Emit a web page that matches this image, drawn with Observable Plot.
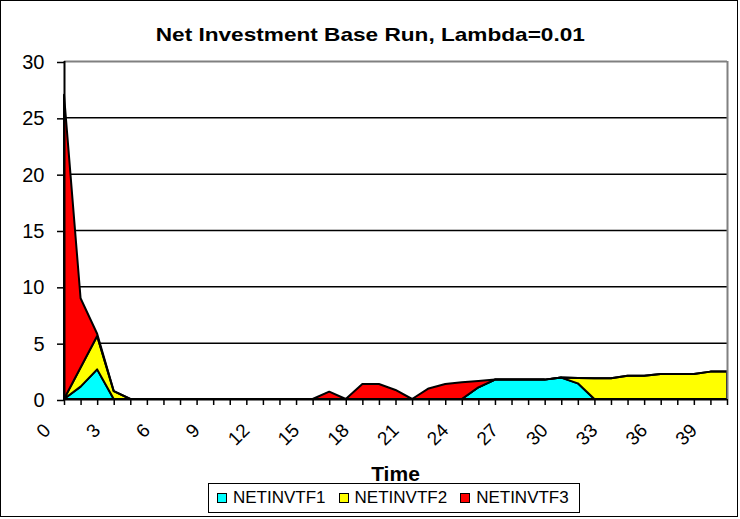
<!DOCTYPE html>
<html>
<head>
<meta charset="utf-8">
<script src="https://cdn.jsdelivr.net/npm/d3@7"></script>
<script src="https://cdn.jsdelivr.net/npm/@observablehq/plot@0.6"></script>
<style>
  html, body { margin: 0; padding: 0; background: #fff; }
  #wrap { position: relative; width: 740px; height: 519px; overflow: hidden; background: #fff;
          font-family: "Liberation Sans", Arial, sans-serif; color: #000; }
  #frame { position: absolute; left: 0; top: 0; width: 736px; height: 515px; border: 1.5px solid #000; pointer-events: none; }
  #title { position: absolute; left: 0; top: 25px; width: 740px; text-align: center; font-weight: bold;
           font-size: 19px; line-height: 19px; }
  #title span { display: inline-block; transform: scaleX(1.19); transform-origin: center; }
  #xlabel { position: absolute; left: 64px; width: 663px; top: 463px; text-align: center; font-weight: bold;
            font-size: 21px; line-height: 21px; }
  #legend { position: absolute; left: 208px; top: 483px; width: 372px; height: 30px; box-sizing: border-box;
            border: 1px solid #000; display: flex; align-items: center; padding-left: 8px; font-size: 17px; }
  .item { display: inline-flex; align-items: center; margin-right: 13px; }
  .sw { width: 8px; height: 8px; border: 1px solid #000; margin-right: 6px; }
  #chart { position: absolute; left: 0; top: 0; }
</style>
</head>
<body>
<div id="wrap">
  <div id="chart"></div>
  <div id="title"><span>Net Investment Base Run, Lambda=0.01</span></div>
  <div id="xlabel">Time</div>
  <div id="legend"></div>
  <div id="frame"></div>
</div>
<script>
const time = [0,1,2,3,4,5,6,7,8,9,10,11,12,13,14,15,16,17,18,19,20,21,22,23,24,25,26,27,28,29,30,31,32,33,34,35,36,37,38,39,40];
const xTickLabels = [0,3,6,9,12,15,18,21,24,27,30,33,36,39];
const yTicks = [0,5,10,15,20,25,30];
const seriesNames = ["NETINVTF1","NETINVTF2","NETINVTF3"];
const seriesColors = ["#00FFFF","#FFFF00","#FF0000"];

const netinvtf1 = [0,1.1,2.63,0, 0,0,0,0,0,0,0,0,0,0,0,0,0,0,0,0,0,0,0,0,0, 1.04,1.72,1.72,1.72,1.72,1.9,1.39, 0,0,0,0,0,0,0,0,0];
const netinvtf2 = [0,1.7,2.96,0.7, 0,0,0,0,0,0,0,0,0,0,0,0,0,0,0,0,0,0,0,0,0,0,0,0,0,0,0, 0.47,1.84,1.84,2.07,2.07,2.22,2.22,2.22,2.43,2.43];
const netinvtf3 = [27.0,6.14,0.2,0, 0,0,0,0,0,0,0,0,0,0,0,0, 0.65,0,1.33,1.33,0.8,0,0.94,1.33,1.48,0.55, 0,0,0,0,0,0,0,0,0,0,0,0,0,0,0];

const seriesValues = [netinvtf1, netinvtf2, netinvtf3];
const data = seriesNames.flatMap((s, i) => time.map((t, j) => ({time: t, value: seriesValues[i][j], series: s})));

const chart = Plot.plot({
  width: 740,
  height: 460,
  marginLeft: 64,
  marginRight: 13,
  marginTop: 61,
  marginBottom: 61,
  style: {fontFamily: "'Liberation Sans', Arial, sans-serif", color: "#000", background: "transparent", overflow: "visible"},
  x: {domain: [0, 40]},
  y: {domain: [0, 30]},
  color: {domain: seriesNames, range: seriesColors},
  marks: [
    Plot.gridY(yTicks.filter(d => d > 0 && d < 30), {stroke: "#000", strokeOpacity: 1, strokeWidth: 1.5}),
    Plot.areaY(data, {x: "time", y: "value", z: "series", fill: "series", stroke: "#000", strokeWidth: 2}),
    Plot.ruleY([30], {stroke: "#808080", strokeWidth: 2}),
    Plot.ruleX([40], {stroke: "#808080", strokeWidth: 2}),
    Plot.ruleX([0], {stroke: "#000", strokeWidth: 2}),
    Plot.ruleY([0], {stroke: "#000", strokeWidth: 2}),
    Plot.axisY({ticks: yTicks, tickSize: 7, tickPadding: 13, fontSize: 20, strokeWidth: 1.5, dy: 1, label: null}),
    Plot.axisX({ticks: time, tickSize: 6, strokeWidth: 1.5, tickFormat: () => "", label: null}),
    Plot.axisX({ticks: xTickLabels, tickSize: 0, tickRotate: -45, fontSize: 19, dx: -17, dy: 16, label: null})
  ]
});
document.getElementById("chart").appendChild(chart);

const legend = document.getElementById("legend");
seriesNames.forEach((s, i) => {
  const it = document.createElement("span");
  it.className = "item";
  const sw = document.createElement("span");
  sw.className = "sw";
  sw.style.background = seriesColors[i];
  it.appendChild(sw);
  it.appendChild(document.createTextNode(s));
  legend.appendChild(it);
});
</script>
</body>
</html>
